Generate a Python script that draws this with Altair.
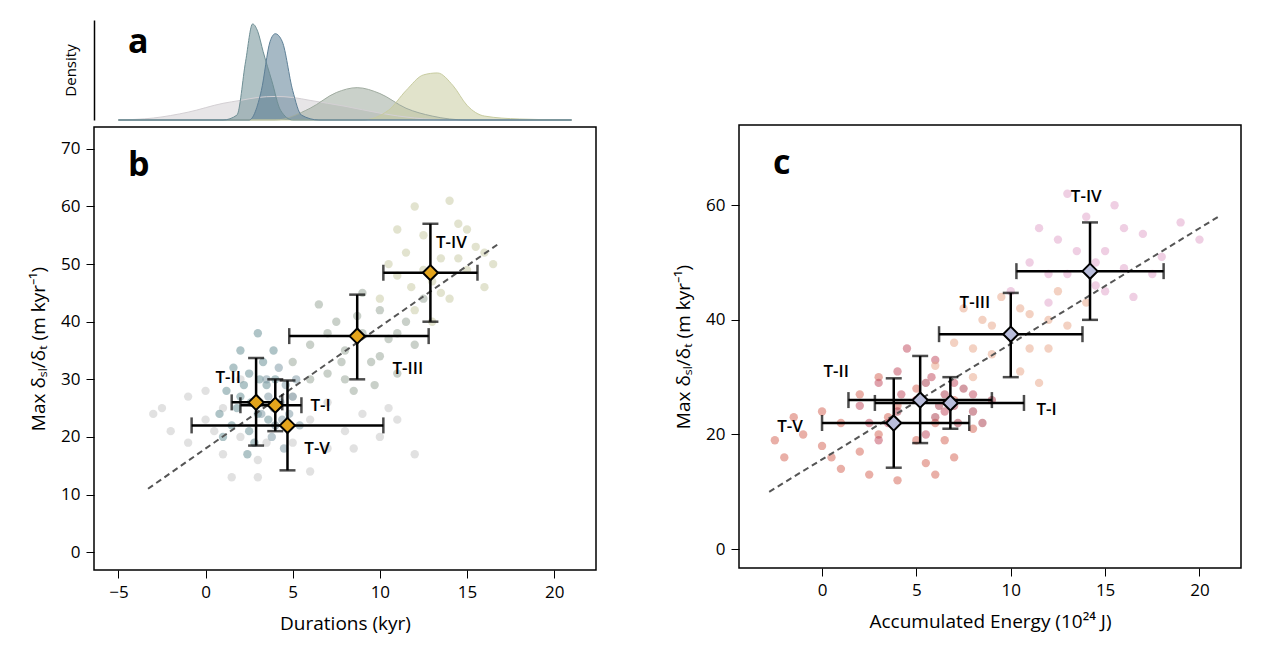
import altair as alt
import pandas as pd

# ---------- density (panel a) ----------
dens = {
 "T-V":  [(-5,0),(-3,0.02),(-1,0.08),(1,0.17),(2,0.2),(3,0.23),(4,0.24),(5,0.23),(6,0.2),(8,0.14),(10,0.07),(12,0.02),(14,0),(21,0)],
 "T-III":[(-5,0),(4,0),(6,0.12),(7.5,0.28),(8.7,0.33),(10,0.27),(11.5,0.12),(13,0.04),(15,0),(21,0)],
 "T-IV": [(-5,0),(9,0),(10.5,0.1),(11.5,0.3),(12.5,0.46),(13.3,0.48),(14.2,0.35),(15,0.15),(16,0.04),(18,0.01),(21,0)],
 "T-II": [(-5,0),(1,0),(1.8,0.05),(2.3,0.6),(2.7,0.98),(3.0,0.9),(3.3,0.7),(3.8,0.4),(4.3,0.1),(5,0),(21,0)],
 "T-I":  [(-5,0),(2.5,0),(3.2,0.3),(3.7,0.8),(4.0,0.88),(4.4,0.8),(5,0.3),(5.5,0.05),(6.5,0),(21,0)],
}
dens_fill = {"T-V":"#d4d0d4","T-III":"#9fab9f","T-IV":"#c8cca0","T-II":"#6f8f95","T-I":"#5d7f96"}
order = ["T-V","T-III","T-IV","T-II","T-I"]

# ---------- clouds ----------
cloud_b = {
 "T-V": [(-3,24),(-2,21),(-1,19),(0,23),(0,28),(1,17),(1,25),(2,20),(2,30),(3,16),(4,22),(5,19),(5,27),(6,23),(7,18),(7,26),(8,21),(9,24),(10,20),(11,23),(12,17),(-1,27),(3,13),(6,14),(-2.5,25),(0.5,21),(1.5,13),(3.5,19),(8.5,18),(10.5,25)],
 "T-II":[(1.5,22),(2,27),(2.5,31),(3,24),(3.5,29),(2,35),(2.8,19),(3.3,33),(1.8,25),(2.5,21),(3,38),(4,30),(2.2,29),(3.6,23),(1.2,28),(0.8,24),(2.6,26),(3.1,30),(1.6,32),(2.4,17),(3.9,35),(1,20)],
 "T-I": [(3.2,24),(3.6,27),(4,22),(4.3,26),(4.6,29),(3.8,20),(4.8,24),(5,27),(3.5,30),(4.2,32),(5.4,22),(4.5,18),(3.9,25),(5.2,30),(4.4,23)],
 "T-III":[(5,33),(6,36),(7,31),(7.5,40),(8,35),(8.5,28),(9,38),(9.5,33),(10,42),(10.5,37),(11,31),(11.5,40),(12,36),(6.5,43),(9,45),(8,30),(12.5,44),(7,38),(6,30),(8.7,41),(10,34),(11,38),(7.8,33),(9.7,29)],
 "T-IV":[(10,44),(11,48),(11.5,52),(12,42),(12.5,55),(13,47),(13.5,51),(14,44),(14.5,57),(15,49),(15.5,53),(16,46),(12,60),(13,40),(16.5,50),(11,56),(14,61),(10.5,50),(12.5,49),(13.5,45),(14.5,51),(11.8,46),(15,56),(16,52)],
}
cloud_c = {
 "T-V": [(-2,16),(-1,20),(0,18),(0,24),(1,14),(1,22),(2,17),(2,27),(3,20),(4,12),(4,25),(5,19),(5,28),(6,22),(7,16),(7,26),(8,21),(-2.5,19),(3,30),(6,13),(-1.5,23),(0.5,16),(2.5,13),(3.5,23),(5.5,15),(6.5,19)],
 "T-II":[(2,25),(3,29),(3.5,22),(4,31),(5,26),(5.5,20),(6,33),(6.5,24),(7,29),(4.5,35),(8,27),(3,19),(4.2,27),(5.8,30),(2.5,22)],
 "T-I": [(4,24),(5,26),(6,23),(6.5,27),(7,25),(7.5,28),(8,24),(9,26),(5.5,29),(8.5,22),(6.2,25),(7.2,22)],
 "T-III":[(6,32),(7,36),(8,30),(8.5,40),(9,34),(9.5,44),(10,37),(10.5,31),(11,41),(12,35),(12.5,45),(13,39),(14,43),(7.5,42),(11.5,29),(9,39),(10.5,42),(11,35),(8,35),(12,40)],
 "T-IV":[(10,45),(11,50),(12,43),(12.5,54),(13,48),(14,58),(14.5,46),(15,52),(15.5,60),(16,49),(17,55),(18,51),(13,62),(16.5,44),(19,57),(11.5,56),(20,54),(13.5,52),(14.5,50),(12,48),(15,45),(16,56),(17.5,48)],
}
col_b = {"T-V":"#c4c4c4","T-II":"#5f8a8f","T-I":"#7894a0","T-III":"#93a193","T-IV":"#c5c8a0"}
col_c = {"T-V":"#d4604f","T-II":"#c0455a","T-I":"#a83848","T-III":"#e8a486","T-IV":"#dfa0c8"}

# ---------- summary points ----------
names = ["T-I","T-II","T-III","T-IV","T-V"]
b_x = [4.0, 2.9, 8.7, 12.9, 4.7]; b_xlo=[2.0,1.5,4.8,10.2,-0.8]; b_xhi=[5.5,4.4,12.8,15.6,10.2]
b_y = [25.5,26.0,37.5,48.5,22.0]; b_ylo=[21.0,18.5,30.0,40.0,14.2]; b_yhi=[30.0,33.7,44.7,57.0,29.8]
c_x = [6.8,5.2,10.0,14.2,3.8]; c_xlo=[2.8,1.4,6.2,10.3,0.0]; c_xhi=[10.7,9.0,13.8,18.1,7.8]
c_y = b_y; c_ylo=b_ylo; c_yhi=b_yhi
b_lab_x=[6.6,1.3,11.6,14.1,6.4]; b_lab_y=[25.3,30.2,31.8,53.6,17.9]
c_lab_x=[11.9,0.75,8.1,14.0,-1.7]; c_lab_y=[24.3,30.9,42.9,61.4,21.3]
b_line=[(-3.3,11),(16.8,53.5)]
c_line=[(-2.8,10),(21,58)]

FONT="Open Sans"
W=502; H=443

def panel(cloud, cols, fld, xs,xlo,xhi,ys,ylo,yhi,lx,ly,line,xdom,ydom,xvals,yvals,xtitle,mfill,letter):
    rows=[]
    for k,pts in cloud.items():
        for x,y in pts: rows.append({fld:k,"x":x,"y":y})
    cdf=pd.DataFrame(rows)
    xs_=alt.Scale(domain=xdom,nice=False,zero=False)
    ys_=alt.Scale(domain=ydom,nice=False,zero=False)
    X=alt.X("x:Q",scale=xs_,axis=alt.Axis(values=xvals,title=xtitle,grid=False,labelFontSize=17,titleFontSize=19,
            tickSize=8,labelPadding=6,titlePadding=14,domain=False,labelFont=FONT,titleFont=FONT,titleFontWeight="normal",labelColor="black",titleColor="black",tickColor="black"))
    Y=alt.Y("y:Q",scale=ys_,axis=alt.Axis(values=yvals,title="Max δₛₗ/δₜ (m kyr⁻¹)",grid=False,labelFontSize=17,titleFontSize=19,
            tickSize=8,labelPadding=6,titlePadding=12,domain=False,labelFont=FONT,titleFont=FONT,titleFontWeight="normal",labelColor="black",titleColor="black",tickColor="black"))
    pts=alt.Chart(cdf).mark_circle(size=70,opacity=0.5).encode(X,Y,
        color=alt.Color(f"{fld}:N",scale=alt.Scale(domain=list(cols),range=list(cols.values())),legend=None))
    ldf=pd.DataFrame({"x":[line[0][0]],"y":[line[0][1]],"x2":[line[1][0]],"y2":[line[1][1]]})
    ln=alt.Chart(ldf).mark_rule(strokeDash=[6,4],color="#555",strokeWidth=2).encode(x="x:Q",y="y:Q",x2="x2:Q",y2="y2:Q")
    s=pd.DataFrame({"n":names,"x":xs,"xlo":xlo,"xhi":xhi,"y":ys,"ylo":ylo,"yhi":yhi,"lx":lx,"ly":ly})
    base=alt.Chart(s)
    hx=base.mark_rule(color="black",strokeWidth=2.5).encode(x="xlo:Q",x2="xhi:Q",y="y:Q")
    vy=base.mark_rule(color="black",strokeWidth=2.5).encode(y="ylo:Q",y2="yhi:Q",x="x:Q")
    t1=base.mark_tick(color="black",thickness=2.5,size=16,orient="vertical").encode(x="xlo:Q",y="y:Q")
    t2=base.mark_tick(color="black",thickness=2.5,size=16,orient="vertical").encode(x="xhi:Q",y="y:Q")
    t3=base.mark_tick(color="black",thickness=2.5,size=16,orient="horizontal").encode(x="x:Q",y="ylo:Q")
    t4=base.mark_tick(color="black",thickness=2.5,size=16,orient="horizontal").encode(x="x:Q",y="yhi:Q")
    dm=base.mark_point(shape="diamond",filled=True,size=230,fill=mfill,stroke="black",strokeWidth=2,opacity=1).encode(x="x:Q",y="y:Q")
    tx=base.mark_text(font=FONT,fontSize=17,fontWeight=600,color="black").encode(x="lx:Q",y="ly:Q",text="n:N")
    let=alt.Chart(pd.DataFrame({"t":[letter]})).mark_text(font=FONT,fontSize=34,fontWeight="bold",align="left",baseline="top",color="black").encode(
        x=alt.value(34),y=alt.value(22),text="t:N")
    return alt.layer(pts,ln,hx,vy,t1,t2,t3,t4,dm,tx,let).properties(width=W,height=H,
        view=alt.ViewConfig(stroke="black",strokeWidth=1.5))

b=panel(cloud_b,col_b,"gb",b_x,b_xlo,b_xhi,b_y,b_ylo,b_yhi,b_lab_x,b_lab_y,b_line,[-6.4,22.4],[-3.1,73.8],
        [-5,0,5,10,15,20],[0,10,20,30,40,50,60,70],"Durations (kyr)","#e3a41c","b")
c=panel(cloud_c,col_c,"gc",c_x,c_xlo,c_xhi,c_y,c_ylo,c_yhi,c_lab_x,c_lab_y,c_line,[-4.4,22.2],[-3.3,74],
        [0,5,10,15,20],[0,20,40,60],"Accumulated Energy (10²⁴ J)","#b9bddb","c")

drows=[]
for i,k in enumerate(order):
    for x,y in dens[k]: drows.append({"gd":k,"x":x,"d":y,"o":i})
ddf=pd.DataFrame(drows)
a_area=alt.Chart(ddf).mark_area(interpolate="monotone",opacity=0.55,line={"strokeWidth":1,"color":"#556"}).encode(
    x=alt.X("x:Q",scale=alt.Scale(domain=[-6.4,22.4],nice=False),axis=None),
    y=alt.Y("d:Q",stack=None,scale=alt.Scale(domain=[0,1.02]),axis=alt.Axis(title="Density",labels=False,ticks=False,grid=False,
        domainColor="black",domainWidth=1.5,titleFont=FONT,titleFontSize=15,titleFontWeight="normal",titleColor="black",titlePadding=16)),
    color=alt.Color("gd:N",scale=alt.Scale(domain=order,range=[dens_fill[k] for k in order]),legend=None),
    order="o:Q", detail="gd:N")
a_let=alt.Chart(pd.DataFrame({"t":["a"]})).mark_text(font=FONT,fontSize=34,fontWeight="bold",align="left",baseline="top",color="black").encode(
    x=alt.value(34),y=alt.value(6),text="t:N")
a=alt.layer(a_area,a_let).properties(width=W,height=100,view=alt.ViewConfig(stroke="transparent"))

blank=alt.Chart(pd.DataFrame({"x":[0]})).mark_point(opacity=0).encode(x=alt.X("x:Q",axis=None),y=alt.Y("x:Q",axis=None)).properties(
    width=W,height=100,view=alt.ViewConfig(stroke="transparent"))

left=alt.vconcat(a,b,spacing=3).resolve_scale(color="independent")
right=alt.vconcat(blank,c,spacing=3).resolve_scale(color="independent")
chart=alt.hconcat(left,right,spacing=76).resolve_scale(color="independent").properties(
    padding={"left":20,"top":11,"right":5,"bottom":5}).configure(background="white")
chart.save("out.html", embed_options={"renderer": "svg", "actions": False})
